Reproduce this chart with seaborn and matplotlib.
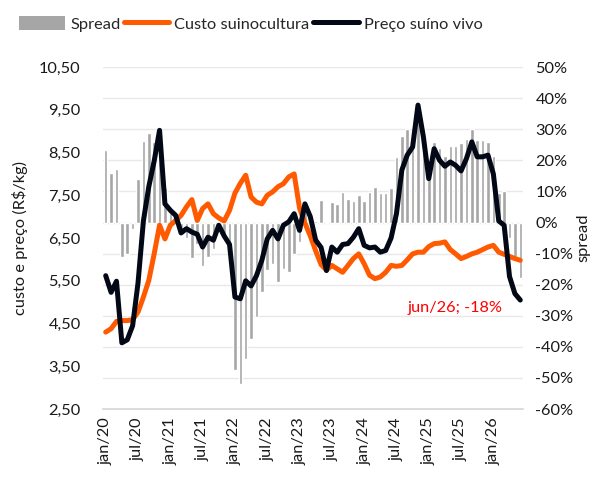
import numpy as np
import pandas as pd
import matplotlib
matplotlib.use("Agg")
import matplotlib.pyplot as plt
import seaborn as sns
from matplotlib.patches import Patch
from matplotlib.lines import Line2D

# ---------------- data ----------------
years = [20, 21, 22, 23, 24, 25, 26]
mnames = ["jan", "fev", "mar", "abr", "mai", "jun", "jul", "ago", "set", "out", "nov", "dez"]
months = [f"{m}/{y}" for y in years for m in mnames][:78]   # jan/20 .. jun/26

spread = [23.4, 15.9, 17.2, -11, -10.2, -2.2, 14, 26.3, 28.8, 26, 25, 11,
          5, 2, -4, -5, -11.3, -7, -14.1, -11, -8.4, -3, -4, -10,
          -47.5, -51.8, -44, -37.6, -30.3, -22.3, -15.3, -13.5, -19, -15, -15.8, -10,
          -6.3, 4, 1, 0.5, 7.2, 0.3, 6.5, 6, 9.9, 7.7, 6.8, 8.8,
          7, 9.8, 11.5, 9.6, 9.4, 11, 21, 27.7, 30, 29, 33, 30,
          20, 26, 24, 21.5, 24.5, 24.7, 25.6, 26.9, 30, 26.7, 26.5, 25.8,
          21.5, 9.5, 10, -5, -12, -18]

custo = [4.30, 4.38, 4.55, 4.57, 4.57, 4.59, 4.77, 5.12, 5.51, 6.13, 6.80, 6.48,
         6.80, 6.91, 7.03, 7.23, 7.40, 6.91, 7.19, 7.30, 7.07, 6.97, 6.90, 7.15,
         7.55, 7.78, 7.97, 7.46, 7.34, 7.30, 7.50, 7.58, 7.70, 7.77, 7.93, 8.00,
         7.20, 6.85, 6.55, 6.20, 5.88, 5.75, 5.86, 5.78, 5.70, 5.86, 6.02, 6.13,
         5.90, 5.63, 5.55, 5.59, 5.70, 5.86, 5.84, 5.86, 5.99, 6.13, 6.17, 6.17,
         6.30, 6.37, 6.38, 6.41, 6.23, 6.13, 6.02, 6.07, 6.13, 6.17, 6.23, 6.29,
         6.33, 6.17, 6.12, 6.07, 6.02, 5.98]

preco = [5.62, 5.23, 5.49, 4.05, 4.12, 4.45, 5.45, 6.90, 7.70, 8.30, 9.02, 7.30,
         7.15, 7.03, 6.62, 6.72, 6.64, 6.59, 6.29, 6.52, 6.45, 6.80, 6.55, 6.35,
         5.12, 5.08, 5.50, 5.38, 5.62, 5.98, 6.48, 6.68, 6.48, 6.80, 6.88, 7.07,
         6.68, 7.30, 7.00, 6.45, 6.28, 5.74, 6.29, 6.17, 6.35, 6.37, 6.52, 6.72,
         6.33, 6.27, 6.29, 6.17, 6.21, 6.50, 7.07, 8.09, 8.44, 8.63, 9.61, 8.87,
         7.89, 8.59, 8.32, 8.18, 8.28, 8.20, 8.07, 8.36, 8.75, 8.40, 8.40, 8.44,
         8.00, 6.90, 6.80, 5.60, 5.20, 5.05]

left_ticks = [2.5, 3.5, 4.5, 5.5, 6.5, 7.5, 8.5, 9.5, 10.5]
right_ticks = list(range(-60, 51, 10))
annot_text = "jun/26; -18%"

# ---------------- style ----------------
sns.set_style("white")
plt.rcParams["font.family"] = ["Lato", "DejaVu Sans"]
FS = 11.8
GRAY = "#a6a6a6"
ORANGE = "#ff5a00"
BLACK = "#030816"
TXT = "#1a1a1a"
LW = 3.6

df = pd.DataFrame({"mes": months, "spread": spread, "custo": custo, "preco": preco,
                   "i": np.arange(len(months))})

fig = plt.figure(figsize=(6.06, 4.79), dpi=100)
ax = fig.add_axes([0.170, 0.146, 0.693, 0.714])

sns.barplot(data=df, x="mes", y="spread", color=GRAY, saturation=1, width=0.66,
            ax=ax, order=months)

ax2 = ax.twinx()
sns.lineplot(data=df, x="i", y="custo", color=ORANGE, lw=LW, ax=ax2)
sns.lineplot(data=df, x="i", y="preco", color=BLACK, lw=LW, ax=ax2)

# bars axis -> right side
ax.set_ylim(-60, 50)
ax.set_yticks(right_ticks)
ax.set_yticklabels([f"{v}%" for v in right_ticks], fontsize=FS, color=TXT)
ax.yaxis.tick_right()
ax.yaxis.set_label_position("right")
ax.set_ylabel("spread", fontsize=FS, color=TXT, labelpad=2)
ax.tick_params(axis="y", length=0, pad=9, labelleft=False, labelright=True)
ax.yaxis.grid(True, color="#e8e8e8", lw=1)
ax.set_axisbelow(True)
for s in ["top", "left", "right"]:
    ax.spines[s].set_visible(False)
ax.spines["bottom"].set_color("#d6d6d6")
ax.spines["bottom"].set_linewidth(1.2)

xt = list(range(0, len(months), 6))
ax.set_xticks(xt)
ax.set_xticklabels([months[k] for k in xt], rotation=90, fontsize=FS, color=TXT)
ax.tick_params(axis="x", length=0, pad=6)
ax.set_xlabel("")

# lines axis -> left side
ax2.set_ylim(2.5, 10.5)
ax2.set_yticks(left_ticks)
ax2.set_yticklabels([f"{v:.2f}".replace(".", ",") for v in left_ticks], fontsize=FS, color=TXT)
ax2.yaxis.tick_left()
ax2.yaxis.set_label_position("left")
ax2.set_ylabel("custo e preço (R$/kg)", fontsize=FS, color=TXT, labelpad=8)
ax2.tick_params(axis="y", length=0, pad=16, labelleft=True, labelright=False)
for s in ["top", "left", "right", "bottom"]:
    ax2.spines[s].set_visible(False)
ax2.set_xlabel("")
ax.set_xlim(-0.5, len(months) - 0.5)

fig.text(455 / 606, 1 - 308 / 479, annot_text, color="#ff0000", fontsize=FS,
         ha="center", va="center")

handles = [Patch(facecolor=GRAY, edgecolor="none"),
           Line2D([0], [0], color=ORANGE, lw=LW, solid_capstyle="round"),
           Line2D([0], [0], color=BLACK, lw=LW, solid_capstyle="round")]
labels = ["Spread", "Custo suinocultura", "Preço suíno vivo"]
fig.legend(handles, labels, loc="center", bbox_to_anchor=(0.414, 0.95), ncol=3,
           frameon=False, fontsize=FS, handlelength=2.8, handletextpad=0.3,
           columnspacing=0.2, handleheight=0.9)

fig.savefig("out.png", dpi=100)
